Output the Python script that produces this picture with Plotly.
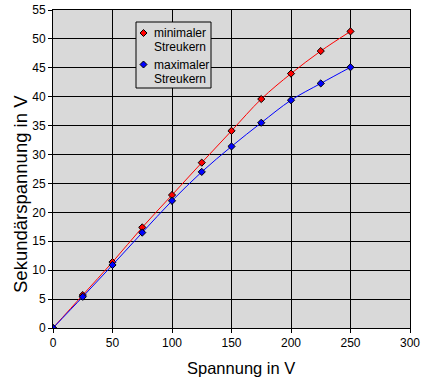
import plotly.graph_objects as go

spannung = [0, 25, 50, 75, 100, 125, 150, 175, 200, 225, 250]
min_streukern = [0, 5.7, 11.4, 17.4, 23.0, 28.6, 34.1, 39.6, 44.0, 47.9, 51.3]
max_streukern = [0, 5.4, 10.9, 16.5, 22.0, 27.0, 31.4, 35.5, 39.4, 42.3, 45.1]
x_ticks = [0, 50, 100, 150, 200, 250, 300]
y_ticks = [0, 5, 10, 15, 20, 25, 30, 35, 40, 45, 50, 55]
series_lines = [["minimaler", "Streukern"], ["maximaler", "Streukern"]]
series_colors = ["#ff0000", "#0000ff"]

font = "Liberation Sans, Arial, sans-serif"
W, H = 427, 383
L, R, T, B = 53, 17, 10, 55
pw, ph = W - L - R, H - T - B

fig = go.Figure()
for lines, vals, col in zip(series_lines, [min_streukern, max_streukern], series_colors):
    fig.add_trace(go.Scatter(x=spannung, y=vals, mode="lines+markers", name=" ".join(lines),
                             line=dict(color=col, width=1, shape="spline"),
                             marker=dict(symbol="diamond", size=5.5, color=col,
                                         line=dict(color="black", width=1)),
                             showlegend=False))

axis_common = dict(showgrid=True, gridcolor="black", gridwidth=1,
                   showline=True, linecolor="black", linewidth=1, mirror=True,
                   ticks="outside", ticklen=4, tickcolor="black", automargin=False,
                   zeroline=False, tickfont=dict(size=12, color="black", family=font))

fig.update_xaxes(range=[0, 300], tickvals=x_ticks, **axis_common)
fig.update_yaxes(range=[0, 55], tickvals=y_ticks, **axis_common)


def px(xp):
    return (xp - L) / pw


def py(yp):
    return (H - B - yp) / ph


annotations = [
    dict(xref="paper", yref="paper", x=px(241), y=py(368), xanchor="center", yanchor="middle",
         showarrow=False, text="Spannung in V", font=dict(size=16.5, color="black", family=font)),
    dict(xref="paper", yref="paper", x=px(20), y=py(194), xanchor="center", yanchor="middle",
         showarrow=False, textangle=-90, text="Sekundärspannung in V",
         font=dict(size=18.5, color="black", family=font)),
]

# custom legend box
shapes = [dict(type="rect", xref="paper", yref="paper",
               x0=px(136), x1=px(211), y0=py(88), y1=py(22),
               line=dict(color="black", width=1), fillcolor="#d9d9d9", layer="above")]
for i, (lines, col) in enumerate(zip(series_lines, series_colors)):
    cy = 33 + i * 31.5
    cx, d = 143.5, 3.5
    path = "M {} {} L {} {} L {} {} L {} {} Z".format(
        px(cx - d), py(cy), px(cx), py(cy - d), px(cx + d), py(cy), px(cx), py(cy + d))
    shapes.append(dict(type="path", xref="paper", yref="paper", path=path,
                       fillcolor=col, line=dict(color="black", width=1), layer="above"))
    for j, line_text in enumerate(lines):
        annotations.append(dict(xref="paper", yref="paper", x=px(152), y=py(cy + j * 14),
                                xanchor="left", yanchor="middle", align="left", showarrow=False,
                                text=line_text, font=dict(size=12, color="black", family=font)))

fig.update_layout(
    width=W, height=H,
    margin=dict(l=L, r=R, t=T, b=B),
    plot_bgcolor="#d9d9d9", paper_bgcolor="white",
    font=dict(family=font, size=12, color="black"),
    showlegend=False,
    shapes=shapes, annotations=annotations,
)

fig.write_html("out.html", config={"displayModeBar": False},
               post_script="document.body.style.margin='0';")
